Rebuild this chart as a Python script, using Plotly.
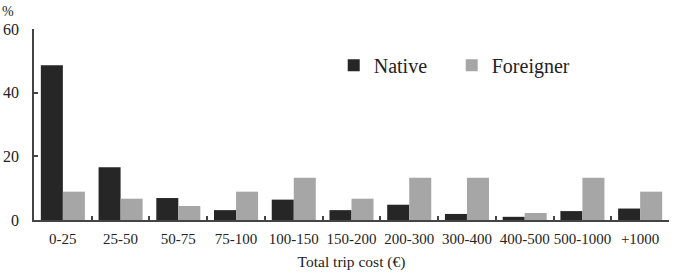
import plotly.graph_objects as go

categories = ["0-25", "25-50", "50-75", "75-100", "100-150", "150-200",
              "200-300", "300-400", "400-500", "500-1000", "+1000"]
native = [48.6, 16.6, 6.9, 3.1, 6.4, 3.1, 4.8, 1.9, 1.0, 2.8, 3.6]
foreigner = [8.9, 6.7, 4.4, 8.9, 13.3, 6.7, 13.3, 13.3, 2.2, 13.3, 8.9]
y_ticks = [0, 20, 40, 60]

FONT = "Liberation Serif"

fig = go.Figure()
fig.add_trace(go.Bar(x=categories, y=native, name="Native",
                     marker=dict(color="#262626", line=dict(width=0))))
fig.add_trace(go.Bar(x=categories, y=foreigner, name="Foreigner",
                     marker=dict(color="#a6a6a6", line=dict(width=0))))

fig.update_layout(
    width=679, height=277,
    margin=dict(l=34, r=10, t=29, b=57, autoexpand=False),
    paper_bgcolor="white", plot_bgcolor="white",
    barmode="group", bargap=0.237, bargroupgap=0,
    font=dict(family=FONT, color="#222"),
    showlegend=True,
    legend=dict(orientation="h", x=0.472, y=0.81, xanchor="left", yanchor="middle",
                font=dict(family=FONT, size=20, color="#222"),
                entrywidth=73, entrywidthmode="pixels",
                bgcolor="rgba(0,0,0,0)", borderwidth=0),
    xaxis=dict(
        type="category", showgrid=False, showline=True, linecolor="#444", linewidth=1.5,
        ticks="inside", tickson="boundaries", ticklen=4, tickcolor="#444", tickwidth=1.5,
        tickfont=dict(family=FONT, size=15, color="#222"),
        tickangle=0, automargin=False,
        ticklabelstandoff=4,
        title=dict(text="Total trip cost (€)", font=dict(family=FONT, size=15.5, color="#222"),
                   standoff=10),
    ),
    yaxis=dict(
        range=[0, 60], tickvals=y_ticks, showgrid=False, zeroline=False,
        showline=True, linecolor="#444", linewidth=1.5,
        ticks="inside", ticklen=4, tickcolor="#444", tickwidth=1.5,
        tickfont=dict(family=FONT, size=16, color="#222"),
        ticklabelstandoff=10, automargin=False,
    ),
)

fig.add_annotation(text="%", xref="paper", yref="paper", x=-0.053, y=1.09,
                   xanchor="left", yanchor="middle", showarrow=False,
                   font=dict(family=FONT, size=14, color="#222"))

fig.write_html("out.html")
